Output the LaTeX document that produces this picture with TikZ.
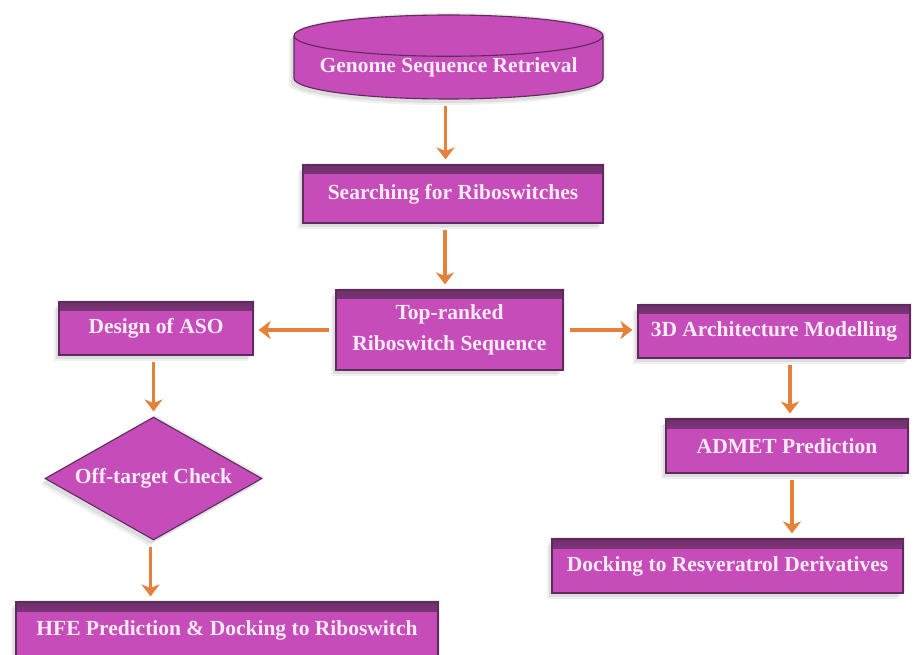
\documentclass[tikz,border=0pt]{standalone}
\usepackage{fontspec}
\setmainfont{Liberation Serif}
\usetikzlibrary{shapes.geometric,shadows,arrows.meta}
\definecolor{boxfill}{HTML}{C64CB9}
\definecolor{boxcap}{HTML}{B544A8}
\definecolor{boxedge}{HTML}{5E2B5C}
\definecolor{boxtext}{HTML}{FCEAF8}
\definecolor{arr}{HTML}{E5813B}
\tikzset{
  softshadow/.style={
    general shadow={fill=black, opacity=0.06, shadow xshift=-5pt, shadow yshift=-6pt},
    general shadow={fill=black, opacity=0.08, shadow xshift=-3pt, shadow yshift=-4pt},
    general shadow={fill=black, opacity=0.08, shadow xshift=2pt, shadow yshift=2pt}},
  topband/.style={path picture={\shade[top color=boxedge!85!boxfill, bottom color=boxfill]
      (path picture bounding box.north west) rectangle ([yshift=-9pt]path picture bounding box.north east);}},
  basebox/.style={draw=boxedge, line width=1.1pt, fill=boxfill, text=boxtext,
      font=\bfseries\fontsize{21.5}{31}\selectfont, inner sep=0pt, align=center, softshadow},
  stepbox/.style={basebox, rectangle, topband},
  decisionbox/.style={basebox, diamond, aspect=1.76},
  dbbox/.style={basebox, cylinder, shape border rotate=90, aspect=0.16,
      cylinder uses custom fill, cylinder body fill=boxfill, cylinder end fill=boxcap},
  flow/.style={draw=arr, line width=3.4pt, -{Stealth[length=12pt,width=18pt,inset=3.5pt]},
      shorten <=6pt, shorten >=5pt},
}
\begin{document}
\begin{tikzpicture}[x=1pt,y=-1pt]
\useasboundingbox (0,0) rectangle (914,655);
\clip (0,0) rectangle (914,655);
\fill[white] (0,0) rectangle (914,655);

\node[dbbox, minimum width=309pt, minimum height=84pt, anchor=shape center] (cyl) at (448.5,57) {Genome Sequence Retrieval};
\node[stepbox, minimum width=300pt, minimum height=58pt] (search) at (453,194) {Searching for Riboswitches};
\node[stepbox, minimum width=227pt, minimum height=80pt] (top) at (449.5,330) {Top-ranked\\Riboswitch Sequence};
\node[stepbox, minimum width=194pt, minimum height=53pt] (design) at (156,328.5) {Design of ASO};
\node[stepbox, minimum width=272pt, minimum height=53pt] (arch) at (774,331.5) {3D Architecture Modelling};
\node[decisionbox, minimum width=217pt, minimum height=123pt] (dia) at (153.5,478.5) {Off-target Check};
\node[stepbox, minimum width=422pt, minimum height=56pt] (hfe) at (227,630) {HFE Prediction \& Docking to Riboswitch};
\node[stepbox, minimum width=242pt, minimum height=54pt] (admet) at (787,446) {ADMET Prediction};
\node[stepbox, minimum width=351pt, minimum height=54pt] (dock) at (727.5,566) {Docking to Resveratrol Derivatives};

\draw[flow] ([xshift=-3pt]cyl.bottom) -- ([xshift=-3pt]cyl.bottom |- search.north);
\draw[flow] ([xshift=-8pt]search.south) -- ([xshift=-8pt]search.south |- top.north);
\draw[flow] (top.west) -- (design.east |- top.west);
\draw[flow] (top.east) -- (arch.west |- top.east);
\draw[flow] (design.south -| dia.north) -- (dia.north);
\draw[flow] ([xshift=-3pt]dia.south) -- ([xshift=-3pt]dia.south |- hfe.north);
\draw[flow] ([xshift=16pt]arch.south) -- ([xshift=16pt]arch.south |- admet.north);
\draw[flow] ([xshift=5pt]admet.south) -- ([xshift=5pt]admet.south |- dock.north);
\end{tikzpicture}
\end{document}
